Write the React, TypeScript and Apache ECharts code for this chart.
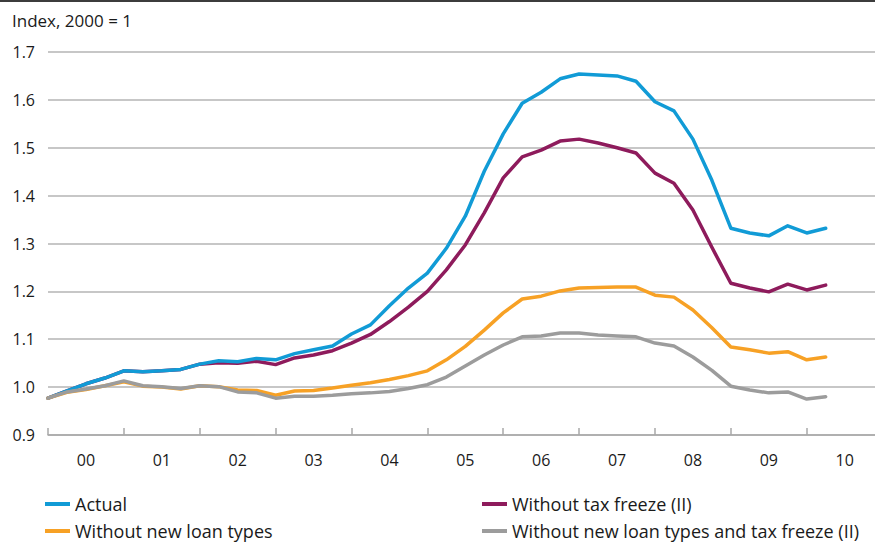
import React, { useEffect, useRef } from "react";
import * as echarts from "echarts";

const quarters = [
  "2000Q1", "2000Q2", "2000Q3", "2000Q4",
  "2001Q1", "2001Q2", "2001Q3", "2001Q4",
  "2002Q1", "2002Q2", "2002Q3", "2002Q4",
  "2003Q1", "2003Q2", "2003Q3", "2003Q4",
  "2004Q1", "2004Q2", "2004Q3", "2004Q4",
  "2005Q1", "2005Q2", "2005Q3", "2005Q4",
  "2006Q1", "2006Q2", "2006Q3", "2006Q4",
  "2007Q1", "2007Q2", "2007Q3", "2007Q4",
  "2008Q1", "2008Q2", "2008Q3", "2008Q4",
  "2009Q1", "2009Q2", "2009Q3", "2009Q4",
  "2010Q1", "2010Q2",
];

const yearLabels = ["00", "01", "02", "03", "04", "05", "06", "07", "08", "09", "10"];
const yTicks = [0.9, 1.0, 1.1, 1.2, 1.3, 1.4, 1.5, 1.6, 1.7];

const actual = [
  0.977, 0.992, 1.007, 1.019, 1.034, 1.032, 1.034, 1.037, 1.048, 1.055, 1.053, 1.06, 1.057,
  1.07, 1.078, 1.086, 1.111, 1.13, 1.17, 1.207, 1.238,
  1.29, 1.357, 1.451, 1.529, 1.593, 1.616, 1.644, 1.654, 1.652, 1.65, 1.639,
  1.596, 1.577, 1.518, 1.432, 1.332, 1.322, 1.316, 1.337, 1.322, 1.332,
];

const withoutTaxFreeze = [
  0.977, 0.992, 1.007, 1.019, 1.034, 1.032, 1.034, 1.037, 1.048, 1.051, 1.05, 1.054, 1.047,
  1.061, 1.067, 1.076, 1.092, 1.11, 1.137, 1.167, 1.2,
  1.245, 1.297, 1.364, 1.437, 1.481, 1.495, 1.514, 1.518, 1.51, 1.5, 1.489,
  1.447, 1.426, 1.37, 1.292, 1.217, 1.207, 1.199, 1.215, 1.203, 1.213,
];

const withoutNewLoans = [
  0.977, 0.989, 0.995, 1.003, 1.011, 1.002, 1.0, 0.996, 1.003, 1.001, 0.994, 0.993, 0.983,
  0.992, 0.993, 0.998, 1.004, 1.009, 1.016, 1.024, 1.034,
  1.057, 1.085, 1.119, 1.155, 1.184, 1.19, 1.201, 1.207, 1.208, 1.209, 1.209,
  1.192, 1.188, 1.161, 1.124, 1.084, 1.078, 1.071, 1.074, 1.057, 1.063,
];

const withoutBoth = [
  0.977, 0.99, 0.996, 1.003, 1.013, 1.003, 1.001, 0.997, 1.003, 1.001, 0.99, 0.988, 0.977,
  0.981, 0.981, 0.983, 0.986, 0.988, 0.991, 0.997, 1.005,
  1.021, 1.044, 1.067, 1.088, 1.105, 1.107, 1.113, 1.113, 1.109, 1.107, 1.105,
  1.092, 1.086, 1.063, 1.035, 1.002, 0.994, 0.988, 0.99, 0.975, 0.98,
];

const NAMES = {
  actual: "Actual",
  taxFreeze: "Without tax freeze (II)",
  newLoans: "Without new loan types",
  both: "Without new loan types and tax freeze (II)",
};

const COLORS = {
  actual: "#119bd6",
  taxFreeze: "#8e1b5c",
  newLoans: "#f7a125",
  both: "#9c9c9c",
};

const FONT = "'Open Sans', 'Noto Sans', sans-serif";

export default function App() {
  const ref = useRef<HTMLDivElement>(null);

  useEffect(() => {
    document.body.style.margin = "0";
    if (!ref.current) return;
    const chart = echarts.init(ref.current, undefined, { renderer: "svg" });

    const toPairs = (arr: number[]) => arr.map((v, i) => [quarters.indexOf(quarters[i]), v]);
    const yearTickValues = yearLabels.map((_, k) => k * 4);
    const yearLabelValues = yearLabels.map((_, k) => k * 4 + 2);

    const mkSeries = (name: string, data: number[], color: string) => ({
      name,
      type: "line",
      data: toPairs(data),
      showSymbol: false,
      symbol: "none",
      lineStyle: { color, width: 3.5, cap: "round", join: "round" },
      itemStyle: { color },
      emphasis: { disabled: true },
    });

    const mkLegend = (name: string, left: number, top: number) => ({
      orient: "horizontal",
      left,
      top,
      padding: 0,
      itemWidth: 25,
      itemHeight: 4,
      icon: "rect",
      selectedMode: false,
      data: [name],
      textStyle: { fontFamily: FONT, fontSize: 18, color: "#1a1a1a", lineHeight: 18 },
    });

    chart.setOption({
      animation: false,
      backgroundColor: "#ffffff",
      textStyle: { fontFamily: FONT },
      graphic: [
        { type: "rect", left: 0, top: 0, shape: { width: 875, height: 2 }, style: { fill: "#3c3c3c" } },
        {
          type: "text",
          left: 12,
          top: 12,
          style: { text: "Index, 2000 = 1", fontFamily: FONT, fontSize: 17, fill: "#1a1a1a" },
        },
      ],
      legend: [
        mkLegend(NAMES.actual, 45, 495),
        mkLegend(NAMES.newLoans, 45, 522),
        mkLegend(NAMES.taxFreeze, 482, 495),
        mkLegend(NAMES.both, 482, 522),
      ],
      grid: { left: 48, right: 0, top: 52, bottom: 109, containLabel: false },
      xAxis: {
        type: "value",
        min: 0,
        max: 43.6,
        splitLine: { show: false },
        axisLine: { show: true, lineStyle: { color: "#a8a8a8", width: 1.5 } },
        axisTick: {
          show: true,
          inside: true,
          length: 7,
          customValues: yearTickValues,
          lineStyle: { color: "#a8a8a8", width: 1.5 },
        },
        axisLabel: {
          customValues: yearLabelValues,
          formatter: (v: number) => yearLabels[Math.round((v - 2) / 4)] ?? "",
          margin: 17,
          fontFamily: FONT,
          fontSize: 16,
          color: "#1a1a1a",
        },
      },
      yAxis: {
        type: "value",
        min: 0.9,
        max: 1.7,
        interval: 0.1,
        axisLine: { show: false },
        axisTick: { show: false },
        splitLine: { lineStyle: { color: "#b4b4b4", width: 1.5 } },
        axisLabel: {
          formatter: (v: number) => {
            const t = yTicks.find((y) => Math.abs(y - v) < 1e-6);
            return t !== undefined ? t.toFixed(1) : "";
          },
          margin: 13,
          fontFamily: FONT,
          fontSize: 16,
          color: "#1a1a1a",
        },
      },
      series: [
        mkSeries(NAMES.taxFreeze, withoutTaxFreeze, COLORS.taxFreeze),
        mkSeries(NAMES.actual, actual, COLORS.actual),
        mkSeries(NAMES.newLoans, withoutNewLoans, COLORS.newLoans),
        mkSeries(NAMES.both, withoutBoth, COLORS.both),
      ],
    });

    return () => chart.dispose();
  }, []);

  return <div ref={ref} style={{ width: 875, height: 544 }} />;
}
